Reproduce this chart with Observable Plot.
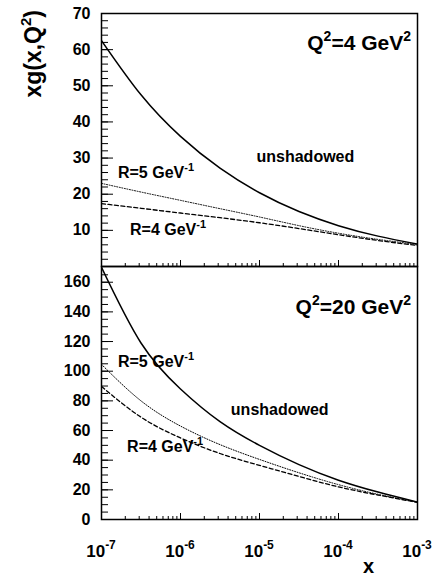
<!DOCTYPE html>
<html><head><meta charset="utf-8">
<script src="https://cdn.jsdelivr.net/npm/d3@7"></script>
<script src="https://cdn.jsdelivr.net/npm/@observablehq/plot@0.6"></script>
<style>
body{margin:0;background:#fff;}
#chart{position:relative;width:433px;height:578px;font-family:"Liberation Sans",Arial,sans-serif;}
#chart svg{position:absolute;left:0;overflow:visible;}
</style></head><body><div id="chart"></div>
<script>
// x grid (half decades)
const xValues = [1e-7, 3.162e-7, 1e-6, 3.162e-6, 1e-5, 3.162e-5, 1e-4, 3.162e-4, 1e-3];
// Q^2 = 4 GeV^2
const unshadowed4 = [62.5, 47.5, 36.0, 27.2, 20.4, 15.2, 11.3, 8.4, 6.2];
const shadowedR5_4 = [23.0, 20.6, 18.3, 16.0, 13.7, 11.3, 9.2, 7.5, 6.1];
const shadowedR4_4 = [17.4, 16.1, 14.8, 13.5, 12.1, 10.5, 8.8, 7.2, 5.8];
// Q^2 = 20 GeV^2
const unshadowed20 = [170, 119, 88, 66, 50, 37, 26.5, 18.5, 11.7];
const shadowedR5_20 = [104.6, 80, 63, 50.5, 40.5, 31.5, 23.5, 17, 11.7];
const shadowedR4_20 = [89.7, 69, 55, 44.5, 36.5, 29, 22, 16.5, 11.5];
// ticks
const xMajor = [1e-7, 1e-6, 1e-5, 1e-4, 1e-3];
const xExponents = ["-7", "-6", "-5", "-4", "-3"];
const xMinor = [2,3,4,5,6,7,8,9].flatMap(m => [1e-7, 1e-6, 1e-5, 1e-4].map(d => m * d));
const yMajorTop = [10, 20, 30, 40, 50, 60];
const yMinorTop = d3.range(2, 70, 2);
const yMajorBottom = [20, 40, 60, 80, 100, 120, 140, 160];
const yMinorBottom = d3.range(5, 170, 5);
const yLabelsTop = [10, 20, 30, 40, 50, 60, 70];
const yLabelsBottom = [0, 20, 40, 60, 80, 100, 120, 140, 160];

const FRAME_W = 316, FRAME_H = 253;

function rich(sel, parts, supSize, supDy) {
  let raised = false;
  for (const [t, sup] of parts) {
    const ts = sel.append("tspan").text(t);
    if (sup && !raised) { ts.attr("dy", -supDy).attr("font-size", supSize); raised = true; }
    else if (sup) { ts.attr("font-size", supSize); }
    else if (!sup && raised) { ts.attr("dy", supDy); raised = false; }
  }
}

function panel(cfg) {
  const rows = [];
  xValues.forEach((x, i) => {
    rows.push({x, y: cfg.unsh[i], s: "u"});
    rows.push({x, y: cfg.r5[i], s: "r5"});
    rows.push({x, y: cfg.r4[i], s: "r4"});
  });
  const plot = Plot.plot({
    width: 433, height: cfg.height,
    marginLeft: 101, marginRight: 16, marginTop: cfg.mt, marginBottom: cfg.mb,
    x: {type: "log", domain: [1e-7, 1e-3], axis: null},
    y: {domain: [0, cfg.ymax]},
    style: {fontFamily: "'Liberation Sans', Arial, sans-serif", fontWeight: "bold", fontSize: "16px", color: "#000", background: "transparent"},
    marks: [
      Plot.ruleY(cfg.yMajor, {insetRight: FRAME_W - 12, stroke: "#000", strokeWidth: 1}),
      Plot.ruleY(cfg.yMinor, {insetRight: FRAME_W - 7, stroke: "#000", strokeWidth: 1}),
      Plot.ruleX(xMajor, {insetTop: FRAME_H - 6, stroke: "#000", strokeWidth: 1}),
      Plot.ruleX(xMinor, {insetTop: FRAME_H - 3, stroke: "#000", strokeWidth: 1}),
      Plot.axisY(cfg.yLabels, {tickSize: 0, tickPadding: 11, label: null, fontSize: 16, fontWeight: "bold"}),
      Plot.line(rows.filter(d => d.s === "u"), {x: "x", y: "y", curve: "natural", stroke: "#000", strokeWidth: 1.5, clip: true}),
      Plot.line(rows.filter(d => d.s === "r5"), {x: "x", y: "y", curve: "natural", stroke: "#000", strokeWidth: 1, strokeDasharray: "1,1.6", clip: true}),
      Plot.line(rows.filter(d => d.s === "r4"), {x: "x", y: "y", curve: "natural", stroke: "#000", strokeWidth: 1.3, strokeDasharray: "4,2.5", clip: true}),
      Plot.frame({stroke: "#000", strokeWidth: 1.5})
    ]
  });
  const sx = plot.scale("x"), sy = plot.scale("y");
  const svg = d3.select(plot);
  const g = svg.append("g").attr("font-family", "'Liberation Sans', Arial, sans-serif").attr("font-weight", "bold").attr("fill", "#000");
  for (const a of cfg.ann) {
    const t = g.append("text")
      .attr("x", sx.apply(a.x)).attr("y", sy.apply(a.y))
      .attr("font-size", a.size).attr("text-anchor", a.anchor || "start");
    rich(t, a.parts, a.supSize, a.supDy);
  }
  return {plot, sx, sy, g};
}

const topPanel = panel({
  unsh: unshadowed4, r5: shadowedR5_4, r4: shadowedR4_4,
  ymax: 70, yMajor: yMajorTop, yMinor: yMinorTop, yLabels: yLabelsTop,
  height: 266, mt: 13, mb: 0,
  ann: [
    {x: 8.4e-4, y: 59.8, anchor: "end", size: 21, supSize: 14, supDy: 9, parts: [["Q"], ["2", 1], ["=4 GeV"], ["2", 1]]},
    {x: 9.3e-6, y: 28.8, size: 16, parts: [["unshadowed"]]},
    {x: 1.64e-7, y: 24.3, size: 16, supSize: 11, supDy: 7, parts: [["R=5 GeV"], ["-1", 1]]},
    {x: 2.33e-7, y: 8.6, size: 16, supSize: 11, supDy: 7, parts: [["R=4 GeV"], ["-1", 1]]}
  ]
});
const bottomPanel = panel({
  unsh: unshadowed20, r5: shadowedR5_20, r4: shadowedR4_20,
  ymax: 170.6, yMajor: yMajorBottom, yMinor: yMinorBottom, yLabels: yLabelsBottom,
  height: 312, mt: 0, mb: 59,
  ann: [
    {x: 8.4e-4, y: 138.4, anchor: "end", size: 21, supSize: 14, supDy: 9, parts: [["Q"], ["2", 1], ["=20 GeV"], ["2", 1]]},
    {x: 4.4e-6, y: 70.2, size: 16, parts: [["unshadowed"]]},
    {x: 1.64e-7, y: 102.6, size: 16, supSize: 11, supDy: 7, parts: [["R=5 GeV"], ["-1", 1]]},
    {x: 2.14e-7, y: 45.3, size: 16, supSize: 11, supDy: 7, parts: [["R=4 GeV"], ["-1", 1]]}
  ]
});

// y title on top panel
const yt = topPanel.g.append("text")
  .attr("transform", "translate(41,10) rotate(-90)")
  .attr("text-anchor", "end").attr("font-size", 23);
rich(yt, [["xg(x,Q"], ["2", 1], [")"]], 15, 10);

// x tick labels and title on bottom panel
xMajor.forEach((v, i) => {
  const t = bottomPanel.g.append("text")
    .attr("x", bottomPanel.sx.apply(v)).attr("y", 557 - 266)
    .attr("text-anchor", "middle").attr("font-size", 17);
  rich(t, [["10"], [xExponents[i], 1]], 12, 8);
});
bottomPanel.g.append("text").attr("x", 374).attr("y", 573 - 266)
  .attr("text-anchor", "end").attr("font-size", 20).text("x");

const chart = document.getElementById("chart");
topPanel.plot.style.top = "0px";
bottomPanel.plot.style.top = "266px";
chart.appendChild(bottomPanel.plot);
chart.appendChild(topPanel.plot);
</script></body></html>
